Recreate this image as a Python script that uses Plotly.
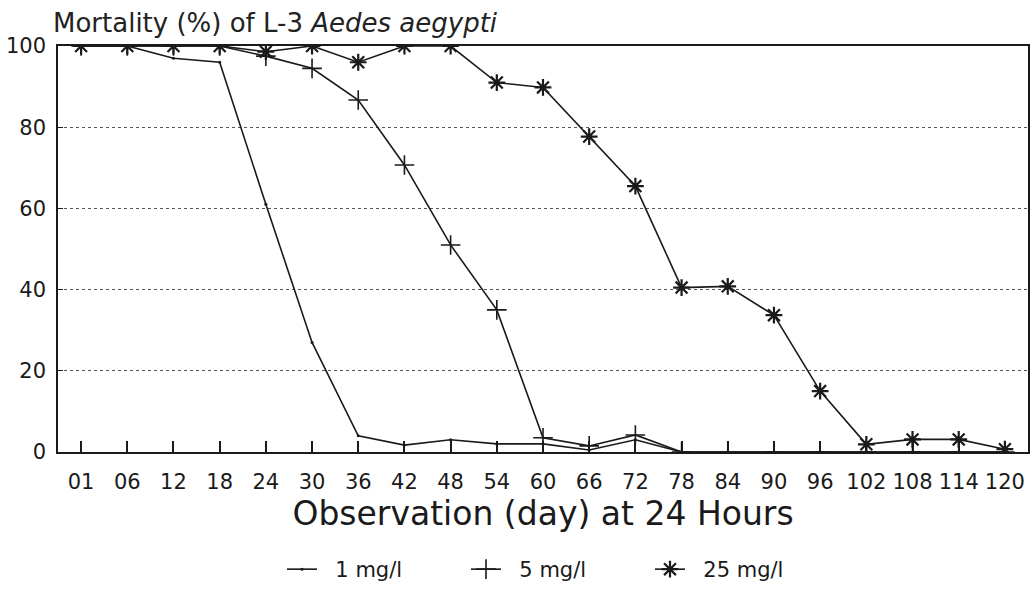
import plotly.graph_objects as go

days = ["01", "06", "12", "18", "24", "30", "36", "42", "48", "54", "60",
        "66", "72", "78", "84", "90", "96", "102", "108", "114", "120"]
mort_1 = [100, 100, 97, 96, 61, 27, 4, 1.7, 3, 2, 2, 0.5, 3, 0, 0, 0, 0, 0, 0, 0, 0]
mort_5 = [100, 100, 100, 100, 97.5, 94.5, 86.7, 70.7, 51, 35, 3.5, 1.5, 4.2, 0, 0, 0, 0, 0, 0, 0, 0]
mort_25 = [100, 100, 100, 100, 98.6, 100, 96, 100, 100, 91, 89.8, 77.7, 65.5, 40.5, 40.8, 33.7, 15, 1.9, 3.1, 3.1, 0.7]
y_ticks = [0, 20, 40, 60, 80, 100]
series_names = ["1 mg/l", "5 mg/l", "25 mg/l"]

INK = "#1a1a1a"
FONT = "DejaVu Sans"
PAD = "\u00a0\u00a0"

fig = go.Figure()
fig.add_trace(go.Scatter(x=days, y=mort_1, name=PAD + series_names[0], mode="lines+markers",
                         line=dict(color=INK, width=1.6),
                         marker=dict(symbol="circle", size=3, color=INK)))
fig.add_trace(go.Scatter(x=days, y=mort_5, name=PAD + series_names[1], mode="lines+markers",
                         line=dict(color=INK, width=1.6),
                         marker=dict(symbol="cross-thin", size=14,
                                     line=dict(color=INK, width=1.6), color=INK)))
fig.add_trace(go.Scatter(x=days, y=mort_25, name=PAD + series_names[2], mode="lines+markers",
                         line=dict(color=INK, width=1.6),
                         marker=dict(symbol="asterisk", size=14,
                                     line=dict(color=INK, width=2.2), color=INK)))

fig.update_layout(
    width=1035, height=590,
    margin=dict(l=58, r=7, t=46, b=138),
    paper_bgcolor="white", plot_bgcolor="white",
    font=dict(family=FONT, color=INK),
    title=dict(text="Mortality (%) of L-3 <i>Aedes aegypti</i>",
               x=53 / 1035, xanchor="left", xref="container",
               y=1 - 23 / 590, yanchor="middle", yref="container",
               font=dict(size=26, family=FONT, color="#222")),
    showlegend=True,
    legend=dict(orientation="h", x=282 / 1035, xanchor="left", xref="container",
                y=1 - 604 / 590, yanchor="bottom", yref="container",
                font=dict(size=21, family=FONT),
                entrywidth=139, entrywidthmode="pixels",
                bgcolor="rgba(0,0,0,0)"),
)
fig.update_xaxes(
    type="category", range=[-0.5, 20.5], automargin=False,
    showline=True, linecolor=INK, linewidth=1.6, mirror=True,
    ticks="inside", ticklen=11, tickwidth=1.5, tickcolor=INK,
    ticklabelstandoff=10,
    showgrid=False, tickfont=dict(size=21, family=FONT),
    title=dict(text="Observation (day) at 24 Hours", font=dict(size=33, family=FONT),
               standoff=2),
)
fig.update_yaxes(
    range=[0, 100], tickvals=y_ticks, automargin=False,
    showline=True, linecolor=INK, linewidth=1.6, mirror=True,
    ticks="inside", ticklen=5, tickcolor=INK, ticklabelstandoff=6,
    showgrid=True, gridcolor="#555", griddash="dot", gridwidth=1,
    tickfont=dict(size=21, family=FONT), zeroline=False,
)

fig.write_html("out.html", config={"displayModeBar": False},
               post_script="document.body.style.margin='0';document.body.style.overflow='hidden';")
